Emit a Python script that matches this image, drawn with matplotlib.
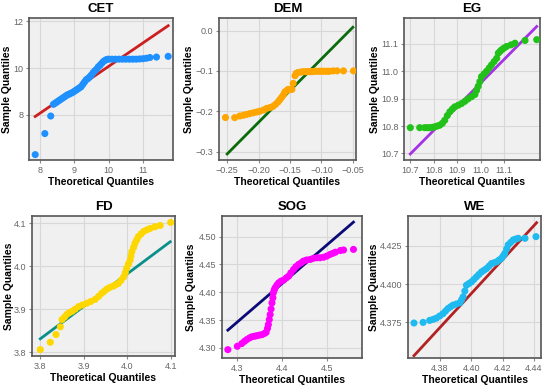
import matplotlib
matplotlib.use("Agg")
import matplotlib.pyplot as plt

plt.rcParams['font.family'] = ['Liberation Sans', 'DejaVu Sans']

# ---------------- data ----------------
cet_x = [7.87, 8.15, 8.32, 8.40, 8.45, 8.50, 8.55, 8.60, 8.65, 8.70, 8.75, 8.80, 8.85, 8.90, 8.95,
         9.00, 9.05, 9.10, 9.15, 9.20, 9.25, 9.30, 9.35, 9.40, 9.45, 9.50, 9.55, 9.60, 9.65, 9.70,
         9.75, 9.80, 9.85, 9.90, 9.95, 10.00, 10.10, 10.20, 10.30, 10.40, 10.50, 10.60, 10.70,
         10.80, 10.90, 11.00, 11.10, 11.20, 11.39, 11.73]
cet_y = [6.30, 7.20, 7.95, 8.45, 8.50, 8.55, 8.60, 8.65, 8.70, 8.75, 8.80, 8.85, 8.88, 8.92, 8.95,
         9.00, 9.05, 9.10, 9.15, 9.20, 9.30, 9.40, 9.50, 9.55, 9.62, 9.70, 9.80, 9.88, 9.95, 10.05,
         10.12, 10.20, 10.28, 10.33, 10.37, 10.38, 10.38, 10.38, 10.38, 10.38, 10.38, 10.38, 10.38,
         10.38, 10.39, 10.40, 10.42, 10.45, 10.47, 10.50]
cet_line_x = [7.87, 11.73]
cet_line_y = [7.93, 11.81]

dem_x = [-0.2527, -0.238, -0.230, -0.224, -0.219, -0.214, -0.2085, -0.203, -0.198, -0.192,
         -0.187, -0.182, -0.177, -0.173, -0.169, -0.166, -0.163, -0.160, -0.158, -0.155,
         -0.153, -0.150, -0.147, -0.145, -0.142, -0.140, -0.137, -0.133, -0.129, -0.125,
         -0.122, -0.118, -0.115, -0.111, -0.108, -0.104, -0.101, -0.097, -0.094, -0.090,
         -0.087, -0.081, -0.075, -0.065, -0.049]
dem_y = [-0.2157, -0.216, -0.212, -0.210, -0.208, -0.206, -0.204, -0.202, -0.200, -0.197,
         -0.193, -0.191, -0.188, -0.183, -0.177, -0.171, -0.165, -0.158, -0.152, -0.149,
         -0.146, -0.146, -0.146, -0.131, -0.112, -0.106, -0.104, -0.103, -0.102, -0.102,
         -0.102, -0.102, -0.102, -0.101, -0.101, -0.101, -0.101, -0.101, -0.101, -0.101,
         -0.101, -0.100, -0.100, -0.100, -0.100]
dem_line_x = [-0.25, -0.05]
dem_line_y = [-0.306, 0.008]

eg_x = [10.70, 10.74, 10.761, 10.772, 10.783, 10.794, 10.804, 10.815, 10.826, 10.837, 10.847,
        10.858, 10.869, 10.88, 10.89, 10.905, 10.919, 10.933, 10.947, 10.962, 10.976, 10.983,
        10.99, 10.997, 11.004, 11.015, 11.026, 11.037, 11.047, 11.058, 11.069, 11.076, 11.083,
        11.09, 11.10, 11.111, 11.13, 11.147, 11.19, 11.24]
eg_y = [10.794, 10.794, 10.794, 10.794, 10.794, 10.795, 10.797, 10.800, 10.803, 10.810, 10.821,
        10.838, 10.852, 10.862, 10.870, 10.876, 10.882, 10.890, 10.899, 10.907, 10.915, 10.930,
        10.945, 10.962, 10.98, 10.99, 11.0, 11.012, 11.023, 11.035, 11.047, 11.066, 11.072,
        11.078, 11.084, 11.09, 11.096, 11.102, 11.112, 11.115]
eg_line_x = [10.70, 11.24]
eg_line_y = [10.698, 11.163]

fd_x = [3.80, 3.823, 3.836, 3.846, 3.850, 3.856, 3.861, 3.867, 3.873, 3.880, 3.888, 3.897,
        3.907, 3.916, 3.926, 3.934, 3.941, 3.947, 3.953, 3.960, 3.968, 3.973, 3.979, 3.985,
        3.991, 3.995, 3.998, 4.002, 4.006, 4.008, 4.010, 4.014, 4.017, 4.021, 4.025, 4.031,
        4.037, 4.045, 4.052, 4.063, 4.075, 4.099]
fd_y = [3.806, 3.823, 3.841, 3.859, 3.876, 3.882, 3.888, 3.892, 3.895, 3.900, 3.906, 3.910,
        3.914, 3.918, 3.923, 3.930, 3.937, 3.942, 3.947, 3.951, 3.954, 3.957, 3.960, 3.967,
        3.975, 3.985, 3.995, 4.005, 4.014, 4.024, 4.034, 4.044, 4.053, 4.061, 4.069, 4.075,
        4.081, 4.085, 4.088, 4.092, 4.095, 4.102]
fd_line_x = [3.80, 4.098]
fd_line_y = [3.831, 4.057]

sog_x = [4.28, 4.301, 4.311, 4.317, 4.322, 4.328, 4.333, 4.339, 4.344, 4.350, 4.356, 4.361,
         4.365, 4.368, 4.370, 4.372, 4.374, 4.376, 4.378, 4.380, 4.381, 4.383, 4.385, 4.389,
         4.393, 4.398, 4.404, 4.410, 4.415, 4.420, 4.426, 4.431, 4.437, 4.443, 4.448, 4.455,
         4.463, 4.470, 4.478, 4.485, 4.493, 4.500, 4.507, 4.513, 4.519, 4.530, 4.537, 4.559]
sog_y = [4.297, 4.303, 4.308, 4.312, 4.315, 4.318, 4.320, 4.321, 4.322, 4.323, 4.324, 4.326,
         4.328, 4.335, 4.342, 4.351, 4.360, 4.370, 4.381, 4.390, 4.399, 4.404, 4.408, 4.413,
         4.417, 4.420, 4.422, 4.426, 4.429, 4.435, 4.441, 4.446, 4.450, 4.453, 4.456, 4.458,
         4.459, 4.461, 4.462, 4.462, 4.463, 4.465, 4.468, 4.470, 4.472, 4.475, 4.476, 4.477]
sog_line_x = [4.28, 4.559]
sog_line_y = [4.332, 4.526]

we_x = [4.3636, 4.3694, 4.3736, 4.3758, 4.3779, 4.3800, 4.3821, 4.3837, 4.3853, 4.3869, 4.3885,
        4.3906, 4.3928, 4.3939, 4.3949, 4.3960, 4.397, 4.3986, 4.4002, 4.4018, 4.4034, 4.4050,
        4.4066, 4.4082, 4.4098, 4.4114, 4.413, 4.4146, 4.4162, 4.4178, 4.4194, 4.4205, 4.4215,
        4.4226, 4.4236, 4.4252, 4.4268, 4.4284, 4.43, 4.4343, 4.4413]
we_y = [4.3746, 4.375, 4.3763, 4.3770, 4.3778, 4.3792, 4.3807, 4.3824, 4.3841, 4.3852, 4.3863,
        4.3870, 4.3878, 4.3897, 4.3917, 4.3955, 4.3993, 4.4004, 4.4015, 4.4031, 4.4048, 4.4064,
        4.408, 4.4091, 4.4102, 4.4118, 4.4135, 4.4140, 4.4146, 4.4158, 4.4170, 4.4186, 4.4202,
        4.4230, 4.4257, 4.4273, 4.4289, 4.4295, 4.43, 4.43, 4.4311]
we_line_x = [4.3636, 4.4417]
we_line_y = [4.3532, 4.4402]

titles = ['CET', 'DEM', 'EG', 'FD', 'SOG', 'WE']
point_colors = ['#1e90ff', '#ffa500', '#22c11a', '#ffd700', '#ff00ff', '#1ebaf0']
line_colors = ['#cc1f1f', '#0a6b0a', '#a632e6', '#0a8f8a', '#0a0a78', '#b22222']

# ---------------- layout ----------------
W, H = 550, 386
boxes = [(29, 173, 18, 160), (219, 356, 18, 160), (404, 540, 18, 160),
         (32, 175, 216, 356), (222, 362, 216, 358), (408, 541, 216, 358)]
ylabel_right_px = [12.5, 193.5, 379.5, 14, 196.5, 379]
limits = [((7.69, 11.87), (6.07, 12.14)),
          ((-0.263, -0.045), (-0.321, 0.031)),
          ((10.673, 11.254), (10.676, 11.194)),
          ((3.781, 4.109), (3.791, 4.117)),
          ((4.267, 4.578), (4.282, 4.537)),
          ((4.3598, 4.4445), (4.3517, 4.4446))]
xticks = [[8, 9, 10, 11], [-0.25, -0.20, -0.15, -0.10, -0.05], [10.7, 10.8, 10.9, 11.0, 11.1],
          [3.8, 3.9, 4.0, 4.1], [4.3, 4.4, 4.5], [4.38, 4.40, 4.42, 4.44]]
yticks = [[8, 10, 12], [-0.3, -0.2, -0.1, 0.0], [10.7, 10.8, 10.9, 11.0, 11.1],
          [3.8, 3.9, 4.0, 4.1], [4.30, 4.35, 4.40, 4.45, 4.50], [4.375, 4.400, 4.425]]
xfmt = ['{:.0f}', '{:.2f}', '{:.1f}', '{:.1f}', '{:.1f}', '{:.2f}']
yfmt = ['{:.0f}', '{:.1f}', '{:.1f}', '{:.1f}', '{:.2f}', '{:.3f}']

data = [(cet_x, cet_y, cet_line_x, cet_line_y),
        (dem_x, dem_y, dem_line_x, dem_line_y),
        (eg_x, eg_y, eg_line_x, eg_line_y),
        (fd_x, fd_y, fd_line_x, fd_line_y),
        (sog_x, sog_y, sog_line_x, sog_line_y),
        (we_x, we_y, we_line_x, we_line_y)]


def fmt(f, v):
    return f.format(v).replace('-', '\u2212')


fig = plt.figure(figsize=(W / 100, H / 100), dpi=100)
fig.patch.set_facecolor('white')

for i in range(6):
    l, r, t, b = boxes[i]
    ax = fig.add_axes([l / W, 1 - b / H, (r - l) / W, (b - t) / H])
    ax.set_facecolor('#f0f0f0')
    ax.grid(True, color='#d8d8d8', linewidth=0.8)
    ax.set_axisbelow(True)
    px, py, lx, ly = data[i]
    ax.plot(lx, ly, color=line_colors[i], linewidth=2.0, zorder=2)
    ax.scatter(px, py, s=26, color=point_colors[i], edgecolors='none', zorder=3)
    ax.set_xlim(*limits[i][0])
    ax.set_ylim(*limits[i][1])
    ax.set_xticks(xticks[i])
    ax.set_xticklabels([fmt(xfmt[i], v) for v in xticks[i]])
    ax.set_yticks(yticks[i])
    ax.set_yticklabels([fmt(yfmt[i], v) for v in yticks[i]])
    ax.tick_params(labelsize=6.5, labelcolor='#666666', length=2, color='#888888', pad=2)
    for s in ax.spines.values():
        s.set_color('#555555')
        s.set_linewidth(1.2)
    ax.set_title(titles[i], fontsize=9.5, fontweight='bold', pad=4)
    ax.set_xlabel('Theoretical Quantiles', fontsize=7.5, fontweight='bold', labelpad=2)
    ax.set_ylabel('Sample Quantiles', fontsize=7.5, fontweight='bold')
    ax.yaxis.set_label_coords((ylabel_right_px[i] - l) / (r - l), 0.5)

fig.savefig('out.png', dpi=100, facecolor='white')
